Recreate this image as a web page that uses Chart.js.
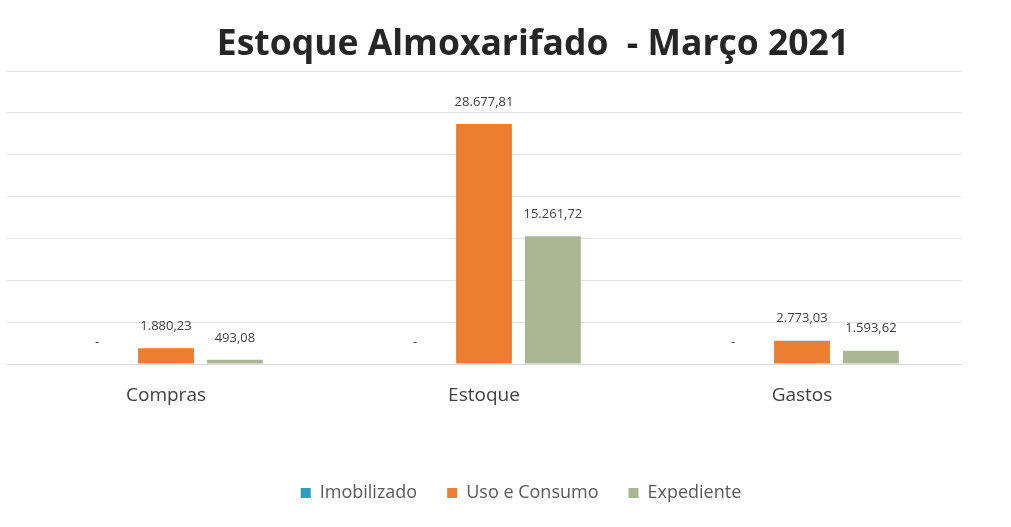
<!DOCTYPE html>
<html>
<head>
<meta charset="utf-8">
<script src="https://cdn.jsdelivr.net/npm/chart.js@4"></script>
<style>
  html, body { margin: 0; padding: 0; background: #fff; }
  #wrap { width: 1011px; height: 527px; position: relative; }
</style>
</head>
<body>
<div id="wrap"><canvas id="chart"></canvas></div>
<script>
const chartTitle = 'Estoque Almoxarifado  - Março 2021';
const categories = ['Compras', 'Estoque', 'Gastos'];
const imobilizado = [0, 0, 0];
const usoConsumo = [1880.23, 28677.81, 2773.03];
const expediente = [493.08, 15261.72, 1593.62];

const fmt = (v) => v === 0 ? '-' :
  v.toLocaleString('pt-BR', { minimumFractionDigits: 2, maximumFractionDigits: 2 });

// value labels above bars, "-" for zero
const valueLabels = {
  id: 'valueLabels',
  afterDatasetsDraw(chart) {
    const ctx = chart.ctx;
    ctx.save();
    ctx.font = '13px "Open Sans"';
    ctx.fillStyle = '#404040';
    ctx.textAlign = 'center';
    ctx.textBaseline = 'middle';
    chart.data.datasets.forEach((ds, i) => {
      chart.getDatasetMeta(i).data.forEach((bar, j) => {
        ctx.fillText(fmt(ds.data[j]), bar.x, bar.y - 22);
      });
    });
    ctx.restore();
  }
};

const titleText = {
  id: 'titleText',
  afterDraw(chart) {
    const ctx = chart.ctx;
    ctx.save();
    ctx.font = 'bold 35.5px "Open Sans"';
    ctx.fillStyle = '#262626';
    ctx.textAlign = 'center';
    ctx.textBaseline = 'middle';
    ctx.fillText(chartTitle, 533, 45);
    ctx.restore();
  }
};

// legend sits a bit right of the plot centre in the original
const legendShift = {
  id: 'legendShift',
  afterLayout(chart) {
    chart.legend.left += 37;
    chart.legend.right += 37;
  }
};

new Chart(document.getElementById('chart'), {
  type: 'bar',
  data: {
    labels: categories,
    datasets: [
      { label: 'Imobilizado', data: imobilizado, backgroundColor: '#2A9FC0' },
      { label: 'Uso e Consumo', data: usoConsumo, backgroundColor: '#ED7D31' },
      { label: 'Expediente', data: expediente, backgroundColor: '#A9B894' }
    ]
  },
  options: {
    responsive: true,
    maintainAspectRatio: false,
    animation: false,
    categoryPercentage: 0.65,
    barPercentage: 0.81,
    layout: { padding: { top: 71, left: 7, right: 50, bottom: 15 } },
    plugins: {
      title: { display: false },
      tooltip: { enabled: false },
      legend: {
        position: 'bottom',
        labels: {
          boxWidth: 10,
          boxHeight: 10,
          padding: 30,
          color: '#595959',
          font: { family: '"Open Sans"', size: 18 }
        }
      }
    },
    scales: {
      x: {
        grid: { display: false },
        border: { color: '#D9D9D9' },
        ticks: { color: '#404040', padding: 12, font: { family: '"Open Sans"', size: 19 } },
        afterFit(scale) { scale.height = 90; }
      },
      y: {
        min: 0,
        max: 35000,
        ticks: { display: false, stepSize: 5000 },
        grid: { color: '#E3E3E3', drawTicks: false },
        border: { display: false }
      }
    }
  },
  plugins: [valueLabels, titleText, legendShift]
});
</script>
</body>
</html>
